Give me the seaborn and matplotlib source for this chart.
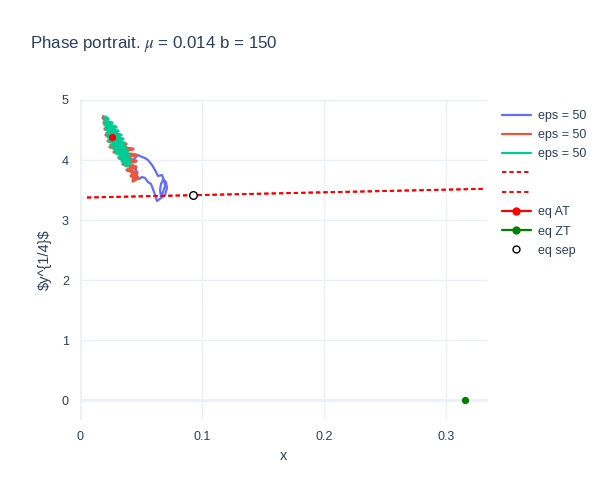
import numpy as np
import pandas as pd
import seaborn as sns
import matplotlib
import matplotlib.pyplot as plt
from matplotlib.lines import Line2D

# region data
title_text = r'Phase portrait. $\mu$ = 0.014 b = 150'
trace_names = ['eps = 50', 'eps = 50', 'eps = 50']
trace_colors = ['#636efa', '#EF553B', '#00cc96']

x_blue = [0.0189, 0.0205, 0.0230, 0.0254, 0.0287, 0.0320, 0.0361, 0.0402, 0.0434, 0.0451,
          0.0475, 0.0508, 0.0533, 0.0557, 0.0590, 0.0615, 0.0639, 0.0672, 0.0689, 0.0697,
          0.0680, 0.0664, 0.0656, 0.0664, 0.0680, 0.0705, 0.0713, 0.0697, 0.0664, 0.0631,
          0.0615, 0.0598, 0.0582, 0.0557, 0.0533, 0.0508, 0.0484, 0.0467, 0.0467, 0.0451,
          0.0434, 0.0459, 0.0451, 0.0426, 0.0410]
y_blue = [4.733, 4.633, 4.500, 4.367, 4.233, 4.133, 4.067, 4.033, 4.000, 4.033,
          4.083, 4.050, 4.033, 4.000, 3.917, 3.833, 3.733, 3.750, 3.667, 3.567,
          3.467, 3.383, 3.500, 3.600, 3.667, 3.633, 3.533, 3.417, 3.367, 3.317,
          3.417, 3.517, 3.600, 3.633, 3.700, 3.717, 3.683, 3.733, 3.800, 3.867,
          3.917, 3.833, 3.733, 3.783, 3.867]

x_red = [0.0189, 0.0221, 0.0197, 0.0254, 0.0205, 0.0287, 0.0213, 0.0328, 0.0230, 0.0377,
         0.0246, 0.0434, 0.0279, 0.0459, 0.0320, 0.0459, 0.0352, 0.0459, 0.0385, 0.0467,
         0.0418, 0.0475, 0.0434, 0.0451]
y_red = [4.700, 4.667, 4.617, 4.567, 4.517, 4.467, 4.417, 4.367, 4.317, 4.267,
         4.217, 4.183, 4.133, 4.083, 4.033, 3.983, 3.933, 3.883, 3.833, 3.783,
         3.733, 3.700, 3.650, 3.733]

x_green = [0.0205, 0.0230, 0.0205, 0.0262, 0.0205, 0.0295, 0.0213, 0.0311, 0.0221, 0.0336,
           0.0230, 0.0352, 0.0238, 0.0361, 0.0254, 0.0377, 0.0279, 0.0393, 0.0295, 0.0402,
           0.0320, 0.0410, 0.0344, 0.0410, 0.0369, 0.0393]
y_green = [4.717, 4.683, 4.650, 4.617, 4.583, 4.550, 4.517, 4.483, 4.450, 4.417,
           4.383, 4.350, 4.317, 4.283, 4.250, 4.217, 4.183, 4.150, 4.117, 4.083,
           4.050, 4.017, 3.983, 3.950, 3.917, 3.900]

x_sep_line = [0.0057, 0.332]
y_sep_line = [3.375, 3.52]

eq_at = (0.026, 4.38)
eq_zt = (0.3156, 0.0)
eq_sep = (0.0926, 3.417)
# endregion

text_col = '#2a3f5f'
grid_col = '#EBF0F8'

sns.set_theme(style='white')
plt.rcParams['font.family'] = ['Liberation Sans', 'DejaVu Sans']
plt.rcParams['mathtext.fontset'] = 'stix'

fig = plt.figure(figsize=(6, 5), dpi=100)
ax = fig.add_axes([80 / 600, 80 / 500, 408 / 600, 320 / 500])

xs = [x_blue, x_red, x_green]
ys = [y_blue, y_red, y_green]
widths = [1.6, 2.4, 2.4]
for i in range(3):
    df = pd.DataFrame({'x': xs[i], 'y': ys[i]})
    sns.lineplot(data=df, x='x', y='y', sort=False, estimator=None, color=trace_colors[i],
                 lw=widths[i], solid_joinstyle='round', ax=ax, zorder=3 + i)

dash = (0, (2.2, 1.6))
for k in range(2):
    sns.lineplot(x=x_sep_line, y=y_sep_line, color='red', lw=1.4, linestyle=dash, ax=ax, zorder=6)

sns.scatterplot(x=[eq_at[0]], y=[eq_at[1]], color='red', s=28, edgecolor='red', linewidth=0, ax=ax, zorder=8)
sns.scatterplot(x=[eq_zt[0]], y=[eq_zt[1]], color='green', s=28, edgecolor='green', linewidth=0, ax=ax, zorder=8)
sns.scatterplot(x=[eq_sep[0]], y=[eq_sep[1]], facecolor='white', s=30, edgecolor='black', linewidth=1,
                ax=ax, zorder=8)

ax.set_xlim(0, 0.3344)
ax.set_ylim(-0.333, 5.0)
ax.set_xticks([0, 0.1, 0.2, 0.3])
ax.set_xticklabels(['0', '0.1', '0.2', '0.3'])
ax.set_yticks([0, 1, 2, 3, 4, 5])
ax.grid(True, color=grid_col, lw=1)
ax.axhline(0, color=grid_col, lw=2, zorder=1)
ax.axvline(0, color=grid_col, lw=2, zorder=1)
for s in ax.spines.values():
    s.set_visible(False)
ax.tick_params(length=0, labelsize=9, colors=text_col, pad=8)

ax.set_xlabel('x', fontsize=10.5, color=text_col, labelpad=4)
ax.set_ylabel(r'\$y^{1/4}\$', fontsize=10.5, color=text_col, labelpad=7)

fig.text(30 / 600, 1 - 44 / 500, title_text, fontsize=12.2, color=text_col, va='center', ha='left')

handles = [Line2D([], [], color=c, lw=1.6) for c in trace_colors]
handles += [Line2D([], [], color='red', lw=1.4, linestyle=dash) for _ in range(2)]
handles += [Line2D([], [], color='red', lw=1.6, marker='o', markersize=5),
            Line2D([], [], color='green', lw=1.6, marker='o', markersize=5),
            Line2D([], [], color='black', lw=0, marker='o', markersize=5, markerfacecolor='white',
                   markeredgewidth=1)]
labels = trace_names + ['', ''] + ['eq AT', 'eq ZT', 'eq sep']
leg = ax.legend(handles, labels, loc='upper left', bbox_to_anchor=(497 / 600, 1 - 105 / 500),
                bbox_transform=fig.transFigure, frameon=False, fontsize=9, handlelength=2.3,
                handletextpad=0.6, labelspacing=0.58, borderaxespad=0)
for t in leg.get_texts():
    t.set_color(text_col)

plt.savefig('out.png', dpi=100)
